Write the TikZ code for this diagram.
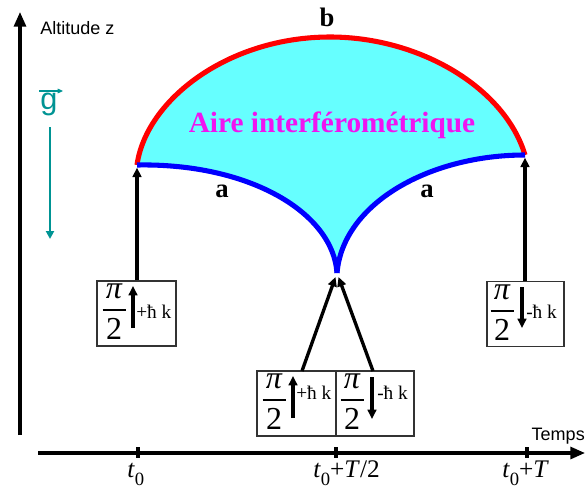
\documentclass[tikz,border=0pt]{standalone}
\usepackage{fontspec}
\setmainfont{Liberation Serif}
\setsansfont{Liberation Sans}
\usetikzlibrary{arrows.meta}
\definecolor{gteal}{RGB}{0,148,148}
\definecolor{aircyan}{RGB}{102,255,255}
\definecolor{arcred}{RGB}{255,0,0}
\definecolor{arcblue}{RGB}{0,0,255}
\definecolor{airmag}{RGB}{240,20,240}
\newcommand\subz{\raisebox{-6pt}{\fontsize{14}{16}\selectfont 0}}
\begin{document}
\begin{tikzpicture}[x=0.75pt,y=-0.75pt,
  axis/.style={line width=2.3pt,-{Triangle[length=11pt,width=9pt]}},
  tickst/.style={line width=2.3pt},
  arr/.style={line width=2.5pt,-{Triangle[length=7pt,width=6.5pt]}},
  sarr/.style={line width=2.5pt,-{Triangle[length=7pt,width=6.5pt]}},
  pbox/.style={draw=black!80,line width=0.8pt,inner sep=0pt,minimum height=48.75pt},
  sanslab/.style={font=\sffamily\fontsize{13.5}{16}\selectfont,inner sep=0pt},
  fracst/.style={font=\fontsize{24}{28}\selectfont,inner sep=0pt},
  hk/.style={font=\fontsize{14.5}{16}\selectfont,inner sep=0pt,anchor=west},
  tlab/.style={font=\fontsize{19}{22}\selectfont,inner sep=0pt,anchor=base west},
  ablab/.style={font=\bfseries\fontsize{20}{24}\selectfont,inner sep=0pt},
  blueline/.style={arcblue,line width=3.8pt},
  halfpi/.pic={
    \node[fracst] (-pi) at (0,-19) {\itshape π};
    \draw[line width=1.1pt] (-11.5,0) -- (11.5,0);
    \node[fracst] (-two) at (0,19) {2};
  },
]
\useasboundingbox (0,0) rectangle (586,489);

% axes
\coordinate (yb) at (20,435);
\coordinate (yt) at (20,12);
\coordinate (xl) at (38,453);
\coordinate (xr) at (585,453);
\draw[axis] (yb) -- (yt);
\draw[axis] (xl) -- (xr);
\node[sanslab,anchor=west] (alt) at (40,28) {Altitude z};
\node[sanslab,anchor=south east] (temps) at (585,444) {Temps};

% ticks and labels
\foreach \x in {138,336,527}{
  \draw[tickst] (\x,447) -- (\x,458);
}
\node[tlab] (l1) at (127,477) {\textit{t}\subz};
\node[tlab] (l2) at (313,477) {\textit{t}\subz+\textit{T}/2};
\node[tlab] (l3) at (502,477) {\textit{t}\subz+\textit{T}};

% gravity
\node[font=\sffamily\fontsize{23}{26}\selectfont,text=gteal,inner sep=0pt] (g) at (49,104) {g};
\coordinate (gv1) at (39,91);
\coordinate (gv2) at (63,91);
\draw[gteal,line width=0.8pt,-{Triangle[length=4pt,width=3.5pt]}] (gv1) -- (gv2);
\coordinate (ga) at (50,127);
\coordinate (gb) at (50,239);
\draw[gteal,line width=1.6pt,-{Triangle[length=6pt,width=6pt]}] (ga) -- (gb);

% interferometer area
\coordinate (L) at (137,165);
\coordinate (R) at (525,155);
\coordinate (C) at (337,273);
\coordinate (T) at (330,37);
\fill[aircyan] (L) .. controls (146,100) and (228,37) .. (T)
  .. controls (420,37) and (505,88) .. (R)
  .. controls (430,155) and (343,203) .. (C)
  .. controls (333,213) and (250,163) .. (L) -- cycle;
\draw[arcred,line width=3.8pt] (L) .. controls (146,100) and (228,37) .. (T)
  .. controls (420,37) and (505,88) .. (R);
\draw[blueline] (L) .. controls (250,163) and (333,213) .. (C);
\draw[blueline] (C) .. controls (343,203) and (430,155) .. (R);
\node[font=\bfseries\fontsize{22}{26}\selectfont,text=airmag,inner sep=0pt] (aire) at (332,125) {Aire interférométrique};
\node[ablab] (b) at (327,17) {b};
\node[ablab] (a1) at (222,191) {a};
\node[ablab] (a2) at (427,191) {a};

% boxes
\node[pbox,minimum width=59.25pt] (bL) at (136.5,313.5) {};
\node[pbox,minimum width=57.75pt] (bR) at (525.5,314) {};
\node[pbox,minimum width=59.25pt] (mL) at (296.5,403.5) {};
\node[pbox,minimum width=58.5pt] (mR) at (375,403.5) {};

\pic (fL) at (114,310) {halfpi};
\pic (fR) at (502,311) {halfpi};
\pic (fmA) at (274,400) {halfpi};
\pic (fmB) at (352,400) {halfpi};

\draw[sarr] (133,328) -- (133,286);
\draw[sarr] (522,287) -- (522,328);
\draw[sarr] (293,418) -- (293,376);
\draw[sarr] (372,377) -- (372,419);

\node[hk] (hL) at (136,312) {+ħ k};
\node[hk] (hR) at (526,312) {-ħ k};
\node[hk] (hm1) at (296,393) {+ħ k};
\node[hk] (hm2) at (377,393) {-ħ k};

% connectors
\draw[arr,shorten >=2pt] (bL.north -| L) -- (L);
\draw[arr,shorten >=2pt] (bR.north -| R) -- (R);
\coordinate (m1) at (302,371);
\coordinate (m2) at (373,371);
\coordinate (c1) at (335.5,277);
\coordinate (c2) at (338.5,277);
\draw[arr] (m1) -- (c1);
\draw[arr] (m2) -- (c2);
\end{tikzpicture}
\end{document}
